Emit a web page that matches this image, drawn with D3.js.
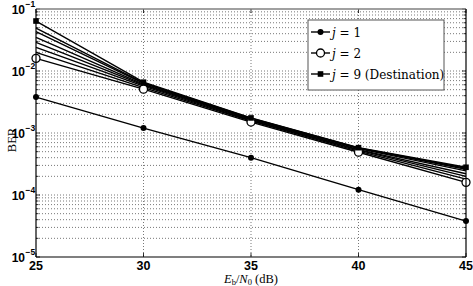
<!DOCTYPE html>
<html><head><meta charset="utf-8">
<script src="https://cdn.jsdelivr.net/npm/d3@7"></script>
<style>body{margin:0;background:#fff}svg{display:block}</style>
</head><body>
<svg id="c" width="473" height="286"></svg>
<script>
const snr = [25, 30, 35, 40, 45];
const berJ1 = [3.8e-3, 1.2e-3, 4.0e-4, 1.22e-4, 3.8e-5];
const berJ2 = [1.6e-2, 5.1e-3, 1.5e-3, 4.9e-4, 1.6e-4];
const berJ3 = [2.0e-2, 5.4e-3, 1.56e-3, 5.1e-4, 1.8e-4];
const berJ4 = [2.4e-2, 5.7e-3, 1.6e-3, 5.3e-4, 2.0e-4];
const berJ5 = [2.9e-2, 5.9e-3, 1.64e-3, 5.4e-4, 2.2e-4];
const berJ6 = [3.5e-2, 6.1e-3, 1.68e-3, 5.6e-4, 2.45e-4];
const berJ7 = [4.3e-2, 6.3e-3, 1.71e-3, 5.7e-4, 2.6e-4];
const berJ8 = [4.9e-2, 6.45e-3, 1.73e-3, 5.75e-4, 2.7e-4];
const berJ9 = [6.4e-2, 6.6e-3, 1.75e-3, 5.8e-4, 2.8e-4];
const xTicks = [25, 30, 35, 40, 45];
const yExps = [-1, -2, -3, -4, -5];
const legendLabels = ["j = 1", "j = 2", "j = 9 (Destination)"];

const series = [
  {v: berJ1, m: "dot"}, {v: berJ2, m: "circle"}, {v: berJ3}, {v: berJ4},
  {v: berJ5}, {v: berJ6}, {v: berJ7}, {v: berJ8}, {v: berJ9, m: "square"}
];

const L = 36, R = 466, T = 9, B = 257;
const svg = d3.select("#c");
const x = d3.scaleLinear().domain([25, 45]).range([L, R]);
const y = d3.scaleLog().domain([1e-5, 1e-1]).range([B, T]);

// grid
const g = svg.append("g");
const minor = [];
for (let e = -5; e < -1; e++) for (let k = 1; k < 10; k++) minor.push(k * Math.pow(10, e));
minor.push(1e-1);
g.selectAll("line.hg").data(minor.filter(d => d > 1e-5 * 1.01 && d < 0.099)).enter().append("line")
  .attr("x1", L).attr("x2", R).attr("y1", d => y(d)).attr("y2", d => y(d))
  .attr("stroke", "#555").attr("stroke-width", 0.8).attr("stroke-dasharray", "1,2");
g.selectAll("line.vg").data(xTicks.slice(1, -1)).enter().append("line")
  .attr("x1", d => x(d)).attr("x2", d => x(d)).attr("y1", T).attr("y2", B)
  .attr("stroke", "#555").attr("stroke-width", 0.8).attr("stroke-dasharray", "1,2");

// inner ticks
const tk = svg.append("g").attr("stroke", "#000").attr("stroke-width", 0.8);
xTicks.forEach(d => {
  tk.append("line").attr("x1", x(d)).attr("x2", x(d)).attr("y1", B).attr("y2", B - 4);
  tk.append("line").attr("x1", x(d)).attr("x2", x(d)).attr("y1", T).attr("y2", T + 4);
});
minor.forEach(d => {
  const len = (Math.abs(Math.log10(d) - Math.round(Math.log10(d))) < 1e-6) ? 4 : 2.5;
  tk.append("line").attr("x1", L).attr("x2", L + len).attr("y1", y(d)).attr("y2", y(d));
  tk.append("line").attr("x1", R).attr("x2", R - len).attr("y1", y(d)).attr("y2", y(d));
});

// lines
const line = d3.line().x((d, i) => x(snr[i])).y(d => y(d));
series.forEach(s => {
  svg.append("path").attr("d", line(s.v)).attr("fill", "none")
    .attr("stroke", "#000").attr("stroke-width", 1.4);
});

function marker(sel, type, cx, cy) {
  if (type === "dot") sel.append("circle").attr("cx", cx).attr("cy", cy).attr("r", 3).attr("fill", "#000");
  else if (type === "circle") sel.append("circle").attr("cx", cx).attr("cy", cy).attr("r", 4)
    .attr("fill", "#fff").attr("stroke", "#000").attr("stroke-width", 1.3);
  else if (type === "square") sel.append("rect").attr("x", cx - 2.8).attr("y", cy - 2.8)
    .attr("width", 5.6).attr("height", 5.6).attr("fill", "#000");
}
const mk = svg.append("g");
series.forEach(s => { if (s.m) s.v.forEach((d, i) => marker(mk, s.m, x(snr[i]), y(d))); });

// frame
svg.append("line").attr("x1", L).attr("x2", R).attr("y1", T).attr("y2", T).attr("stroke", "#808080").attr("stroke-width", 1.6);
svg.append("line").attr("x1", L).attr("x2", L).attr("y1", T).attr("y2", B).attr("stroke", "#000").attr("stroke-width", 1.2);
svg.append("line").attr("x1", R).attr("x2", R).attr("y1", T).attr("y2", B).attr("stroke", "#000").attr("stroke-width", 1.2);
svg.append("line").attr("x1", L).attr("x2", R).attr("y1", B).attr("y2", B).attr("stroke", "#000").attr("stroke-width", 1.2);

// tick labels
const font = "'Liberation Sans', Arial, sans-serif";
svg.selectAll("text.xt").data(xTicks).enter().append("text")
  .attr("x", d => x(d)).attr("y", 269.5).attr("text-anchor", "middle")
  .attr("font-family", font).attr("font-weight", "bold").attr("font-size", 12.5).text(d => d);
yExps.forEach(e => {
  svg.append("text").attr("x", 25).attr("y", y(Math.pow(10, e)) + 5)
    .attr("text-anchor", "end").attr("font-family", font).attr("font-weight", "bold").attr("font-size", 12).text("10");
  svg.append("text").attr("x", 25.5).attr("y", y(Math.pow(10, e)) - 2)
    .attr("font-family", font).attr("font-weight", "bold").attr("font-size", 8.5).text("\u2212" + (-e));
});

// axis titles
const serif = "'Liberation Serif', 'Times New Roman', serif";
const xt = svg.append("text").attr("x", 251).attr("y", 282.5).attr("text-anchor", "middle")
  .attr("font-family", serif).attr("font-size", 12.5);
xt.append("tspan").attr("font-style", "italic").text("E");
xt.append("tspan").attr("font-size", 8.5).attr("dy", 2).text("b");
xt.append("tspan").attr("dy", -2).text("/");
xt.append("tspan").attr("font-style", "italic").text("N");
xt.append("tspan").attr("font-size", 8.5).attr("dy", 2).text("0");
xt.append("tspan").attr("dy", -2).text(" (dB)");
svg.append("text").attr("transform", "translate(16,140) rotate(-90)").attr("text-anchor", "middle")
  .attr("font-family", serif).attr("font-size", 12.5).text("BER");

// legend
const lg = svg.append("g");
lg.append("rect").attr("x", 308).attr("y", 20).attr("width", 136).attr("height", 70)
  .attr("fill", "#fff").attr("stroke", "#555").attr("stroke-width", 1);
const lm = ["dot", "circle", "square"];
legendLabels.forEach((lab, i) => {
  const yy = 32 + i * 21;
  lg.append("line").attr("x1", 311).attr("x2", 330).attr("y1", yy).attr("y2", yy).attr("stroke", "#000").attr("stroke-width", 1.4);
  marker(lg, lm[i], 320.5, yy);
  const t = lg.append("text").attr("x", 332).attr("y", yy + 4.5).attr("font-family", "'DejaVu Serif', serif").attr("font-size", 12);
  const parts = lab.split(" = ");
  t.append("tspan").attr("font-style", "italic").text(parts[0]);
  t.append("tspan").text(" = " + parts[1]);
});
</script>
</body></html>
